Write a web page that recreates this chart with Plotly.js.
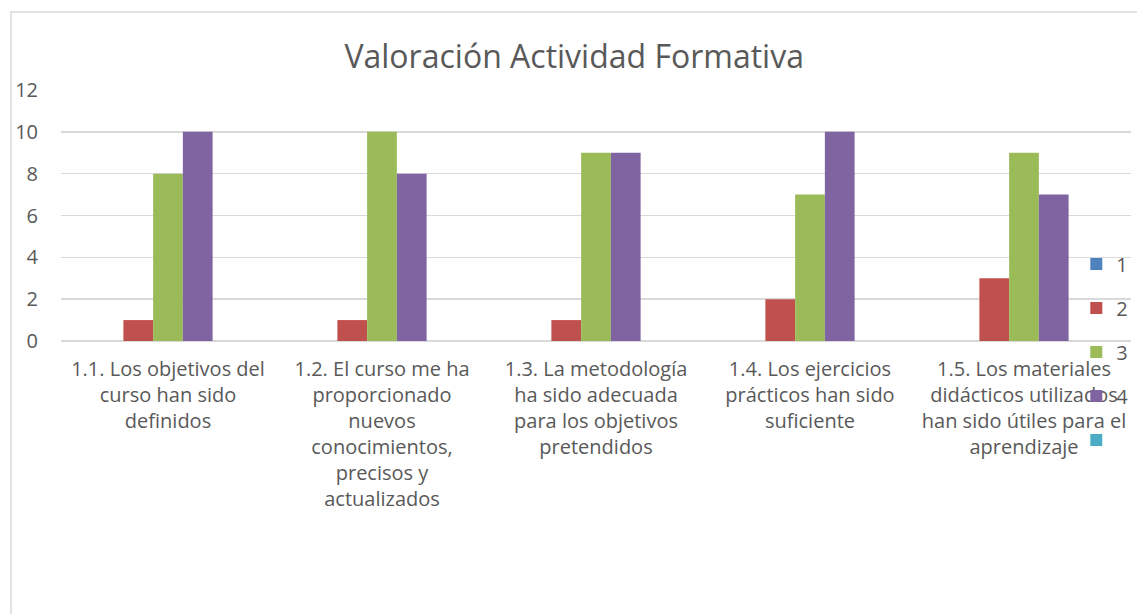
<!DOCTYPE html>
<html>
<head>
<meta charset="utf-8">
<script src="https://cdn.plot.ly/plotly-3.0.1.min.js"></script>
<style>
  html, body { margin: 0; padding: 0; background: #fff; }
  #chart { width: 1137px; height: 614px; }
</style>
</head>
<body>
<div id="chart"></div>
<script>
// categories (line breaks as in the original axis labels)
const categories = [
  "1.1. Los objetivos del<br>curso han sido<br>definidos",
  "1.2. El curso me ha<br>proporcionado<br>nuevos<br>conocimientos,<br>precisos y<br>actualizados",
  "1.3. La metodología<br>ha sido adecuada<br>para los objetivos<br>pretendidos",
  "1.4. Los ejercicios<br>prácticos han sido<br>suficiente",
  "1.5. Los materiales<br>didácticos utilizados<br>han sido útiles para el<br>aprendizaje"
];

// one array per rating series
const seriesNames = ["1", "2", "3", "4", ""];
const rating1 = [0, 0, 0, 0, 0];
const rating2 = [1, 1, 1, 2, 3];
const rating3 = [8, 10, 9, 7, 9];
const rating4 = [10, 8, 9, 10, 7];
const rating5 = [0, 0, 0, 0, 0];

const yTicks = [0, 2, 4, 6, 8, 10, 12];

const colors = ["#4F81BD", "#C0504D", "#9BBB59", "#8064A2", "#4BACC6"];
const textColor = "#595959";
const gridColor = "#d9d9d9";
const font = "'Open Sans', 'DejaVu Sans', sans-serif";

const allSeries = [rating1, rating2, rating3, rating4, rating5];

const traces = allSeries.map((vals, i) => ({
  type: "bar",
  x: categories,
  y: vals,
  name: seriesNames[i],
  legendgroup: "g" + i,
  marker: { color: colors[i], line: { width: 0 } },
  hoverinfo: "x+y+name"
}));

const layout = {
  width: 1137,
  height: 614,
  paper_bgcolor: "#fff",
  plot_bgcolor: "#fff",
  font: { family: font, color: textColor, size: 20 },
  margin: { l: 61, r: 5, t: 90, b: 273 },
  title: {
    text: "Valoración Actividad Formativa",
    font: { size: 32, color: textColor, family: font },
    x: 0.505, xanchor: "center",
    y: 0.907, yanchor: "middle"
  },
  barmode: "group",
  bargap: 0.305,
  bargroupgap: 0,
  showlegend: true,
  legend: {
    x: 0.948, xanchor: "left",
    y: 0.384, yanchor: "top",
    bgcolor: "rgba(0,0,0,0)",
    font: { size: 20, color: textColor },
    tracegroupgap: 15,
    itemwidth: 30
  },
  xaxis: {
    type: "category",
    showline: false,
    showgrid: false,
    ticks: "",
    ticklabelstandoff: 14,
    tickangle: 0,
    tickfont: { size: 20, color: textColor }
  },
  yaxis: {
    range: [0, 12],
    tickvals: yTicks,
    showgrid: true,
    gridcolor: gridColor,
    gridwidth: 1.5,
    zeroline: true,
    zerolinecolor: gridColor,
    zerolinewidth: 1.5,
    showline: false,
    ticks: "",
    ticklabelstandoff: 22,
    tickfont: { size: 20, color: textColor }
  },
  shapes: [{
    type: "rect",
    xref: "paper", yref: "paper",
    x0: -0.0467, x1: 1.2,
    y0: -1.5, y1: 1.311,
    line: { color: gridColor, width: 1.5 },
    fillcolor: "rgba(0,0,0,0)",
    layer: "below"
  }]
};

Plotly.newPlot("chart", traces, layout, { displayModeBar: false, staticPlot: true });
</script>
</body>
</html>
